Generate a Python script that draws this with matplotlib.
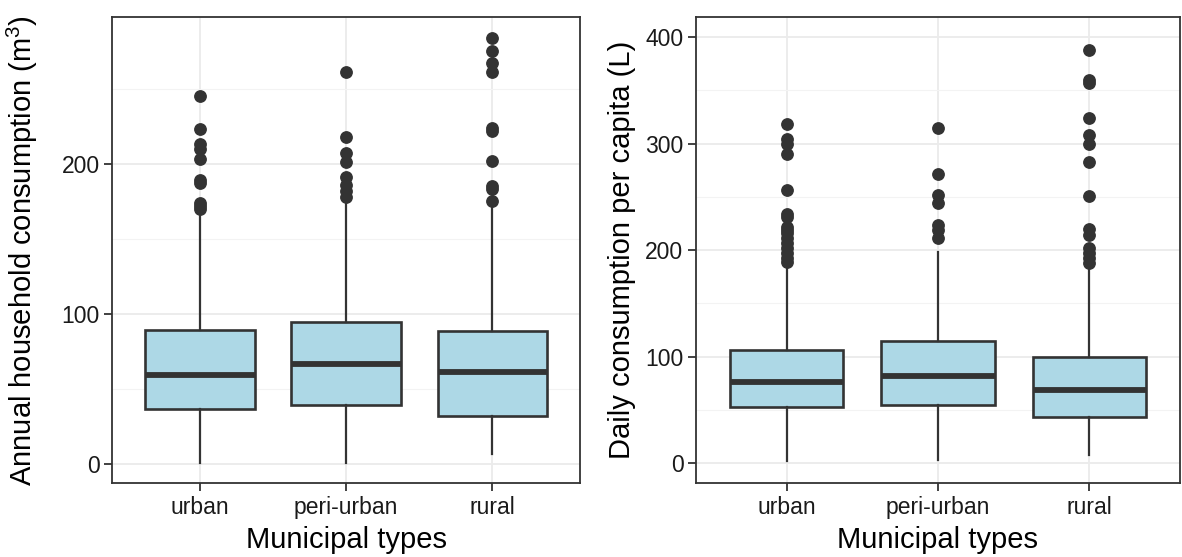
import matplotlib
matplotlib.use("Agg")
import matplotlib.pyplot as plt
from matplotlib.ticker import MultipleLocator

plt.rcParams['font.family'] = ['Liberation Sans', 'DejaVu Sans']
plt.rcParams['mathtext.fontset'] = 'custom'
plt.rcParams['mathtext.rm'] = 'Liberation Sans'
plt.rcParams['mathtext.it'] = 'Liberation Sans:italic'

cats = ['urban', 'peri-urban', 'rural']

# annual household consumption (m3)
annual_whislo = [1, 1, 7]
annual_q1 = [37, 39.5, 32]
annual_med = [59.5, 67, 61.5]
annual_q3 = [89.2, 94.7, 88.5]
annual_whishi = [167, 175, 172]
annual_fliers = [
    [245, 223, 213, 210, 203, 189, 187, 174, 172, 170],
    [261, 218, 207, 201, 191, 186, 182, 178],
    [284, 275, 267, 261, 224, 222, 202, 185, 183, 175],
]

# daily consumption per capita (L)
daily_whislo = [2, 3, 8]
daily_q1 = [52.5, 55, 43.7]
daily_med = [76, 81.4, 68.8]
daily_q3 = [106.3, 114.5, 99.4]
daily_whishi = [186, 198, 185]
daily_fliers = [
    [318, 304, 300, 290, 256, 234, 231, 222, 219, 216, 211, 207, 202, 197, 193, 189],
    [315, 271, 252, 244, 224, 219, 211],
    [388, 360, 357, 324, 308, 300, 283, 251, 220, 214, 202, 197, 193, 188],
]

dark = '#333333'


def make_stats(lo, q1, med, q3, hi, fl):
    out = []
    for i in range(len(cats)):
        out.append(dict(whislo=lo[i], q1=q1[i], med=med[i], q3=q3[i],
                        whishi=hi[i], fliers=fl[i], label=cats[i]))
    return out


def draw(ax, stats, ylim, ylabel, label_x):
    ax.bxp(stats, positions=[1, 2, 3], widths=0.75, patch_artist=True,
           showcaps=False, zorder=3,
           boxprops=dict(facecolor='#ADD8E6', edgecolor=dark, linewidth=1.9),
           medianprops=dict(color=dark, linewidth=4.2, solid_capstyle='butt'),
           whiskerprops=dict(color=dark, linewidth=1.6),
           flierprops=dict(marker='o', markerfacecolor=dark, markeredgecolor=dark,
                           markersize=8.2))
    ax.set_xlim(0.4, 3.6)
    ax.set_ylim(*ylim)
    ax.yaxis.set_major_locator(MultipleLocator(100))
    ax.yaxis.set_minor_locator(MultipleLocator(50))
    ax.grid(which='major', color='#EBEBEB', linewidth=1.3, zorder=0)
    ax.grid(which='minor', axis='y', color='#F3F3F3', linewidth=0.8, zorder=0)
    ax.set_axisbelow(True)
    ax.tick_params(which='major', length=5.5, width=1.3, color=dark,
                   labelsize=16.5, labelcolor='#1A1A1A', pad=3.5)
    ax.tick_params(which='minor', length=0)
    for s in ax.spines.values():
        s.set_color(dark)
        s.set_linewidth(1.3)
    ax.set_ylabel(ylabel, fontsize=21)
    ax.yaxis.set_label_coords(label_x, 0.5)
    ax.set_xlabel('Municipal types', fontsize=21, va='top')
    ax.xaxis.set_label_coords(0.5, -0.092)


fig = plt.figure(figsize=(11.82, 5.57), dpi=100)
ax1 = fig.add_axes([0.0948, 0.132, 0.396, 0.838])
ax2 = fig.add_axes([0.5888, 0.132, 0.4095, 0.838])

draw(ax1, make_stats(annual_whislo, annual_q1, annual_med, annual_q3,
                     annual_whishi, annual_fliers),
     (-12.7, 298), r'Annual household consumption (m$^{3}$)', -0.155)
draw(ax2, make_stats(daily_whislo, daily_q1, daily_med, daily_q3,
                     daily_whishi, daily_fliers),
     (-19, 419), 'Daily consumption per capita (L)', -0.124)

fig.savefig('out.png', dpi=100)
